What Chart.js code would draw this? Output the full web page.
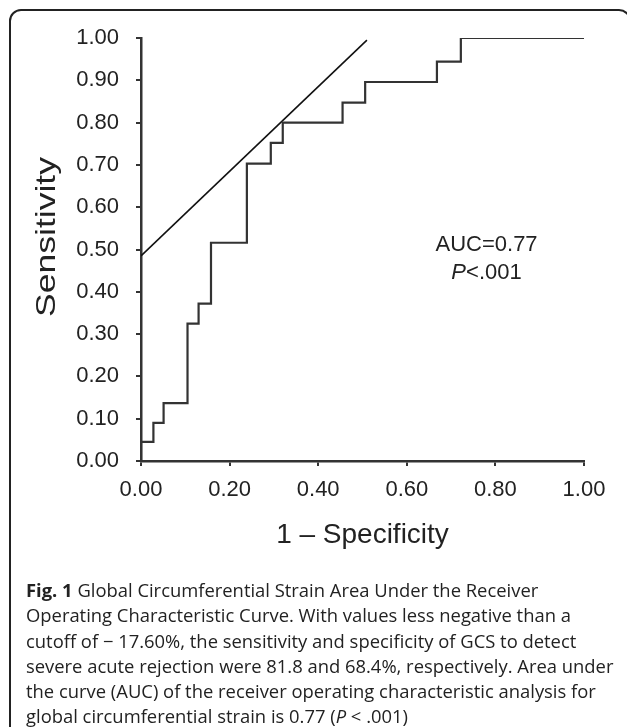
<!DOCTYPE html>
<html>
<head>
<meta charset="utf-8">
<script src="https://cdn.jsdelivr.net/npm/chart.js@4"></script>
<style>
  html, body { margin: 0; padding: 0; background: #fff; }
  body { width: 627px; height: 727px; position: relative; overflow: hidden; }
  #frame {
    position: absolute; left: 9px; top: 9px; width: 622px; height: 780px;
    box-sizing: border-box; border: 2px solid #222; border-radius: 12px;
  }
  #roc { position: absolute; left: 0; top: 0; }
  #caption {
    position: absolute; left: 26px; top: 577px;
    font-family: "Open Sans", sans-serif; font-size: 18.4px; line-height: 25.3px;
    color: #222; white-space: nowrap;
  }
  #caption b { font-weight: 700; }
</style>
</head>
<body>
<div id="frame"></div>
<canvas id="roc" width="627" height="580"></canvas>
<div id="caption">
  <div><b>Fig. 1</b> Global Circumferential Strain Area Under the Receiver</div>
  <div>Operating Characteristic Curve. With values less negative than a</div>
  <div>cutoff of − 17.60%, the sensitivity and specificity of GCS to detect</div>
  <div>severe acute rejection were 81.8 and 68.4%, respectively. Area under</div>
  <div>the curve (AUC) of the receiver operating characteristic analysis for</div>
  <div>global circumferential strain is 0.77 (<i>P</i> &lt; .001)</div>
</div>
<script>
// ROC step curve corners (1 - specificity, sensitivity)
const fpr = [0, 0, 0.028, 0.051, 0.105, 0.130, 0.158, 0.239, 0.293, 0.320, 0.455, 0.506, 0.668, 0.722, 1.0];
const tpr = [0, 0.045, 0.090, 0.137, 0.325, 0.372, 0.516, 0.703, 0.752, 0.800, 0.847, 0.896, 0.944, 1.0, 1.0];
// tangent (cutoff) line
const tangentX = [0, 0.51];
const tangentY = [0.485, 0.995];
const xTicks = [0, 0.2, 0.4, 0.6, 0.8, 1.0];
const yTicks = [0, 0.1, 0.2, 0.3, 0.4, 0.5, 0.6, 0.7, 0.8, 0.9, 1.0];
const aucText = 'AUC=0.77';
const pText = '<.001';

const axisFont = '"Liberation Sans", Arial, sans-serif';
const ink = '#333';

// AUC note and stretched y title
const notes = {
    id: 'notes',
    afterDraw(chart) {
        const ctx = chart.ctx;
        const xs = chart.scales.x, ys = chart.scales.y;
        ctx.save();
        ctx.fillStyle = '#222';
        ctx.textBaseline = 'middle';
        ctx.font = '22px ' + axisFont;
        ctx.textAlign = 'center';
        const cx = xs.getPixelForValue(0.78);
        ctx.fillText(aucText, cx, ys.getPixelForValue(0.51));
        // "P" italic + "<.001"
        ctx.textAlign = 'left';
        ctx.font = 'italic 22px ' + axisFont;
        const wP = ctx.measureText('P').width;
        ctx.font = '22px ' + axisFont;
        const wR = ctx.measureText(pText).width;
        const x0 = cx - (wP + wR) / 2;
        const y2 = ys.getPixelForValue(0.445);
        ctx.font = 'italic 22px ' + axisFont;
        ctx.fillText('P', x0, y2);
        ctx.font = '22px ' + axisFont;
        ctx.fillText(pText, x0 + wP, y2);

        // y axis title
        ctx.font = '28px ' + axisFont;
        ctx.textAlign = 'center';
        const w = ctx.measureText('Sensitivity').width;
        ctx.translate(47, 237);
        ctx.rotate(-Math.PI / 2);
        ctx.scale(160 / w, 1);
        ctx.fillText('Sensitivity', 0, 0);
        ctx.restore();
    }
};

const ctx = document.getElementById('roc').getContext('2d');
new Chart(ctx, {
    type: 'line',
    data: {
        datasets: [{
            label: 'ROC',
            data: fpr.map((x, i) => ({ x: x, y: tpr[i] })),
            borderColor: ink,
            borderWidth: 2.2,
            pointRadius: 0,
            stepped: 'before',
            fill: false
        }, {
            label: 'Cutoff',
            data: tangentX.map((x, i) => ({ x: x, y: tangentY[i] })),
            borderColor: '#111',
            borderWidth: 1.6,
            pointRadius: 0,
            fill: false
        }]
    },
    options: {
        responsive: false,
        animation: false,
        devicePixelRatio: 1,
        layout: { padding: { left: 0, top: 38, right: 43, bottom: 0 } },
        plugins: {
            legend: { display: false },
            tooltip: { enabled: false }
        },
        scales: {
            x: {
                type: 'linear',
                min: 0, max: 1,
                afterFit: s => { s.height = 119; },
                afterBuildTicks: s => { s.ticks = xTicks.map(v => ({ value: v })); },
                ticks: {
                    padding: 11,
                    color: '#222',
                    font: { family: axisFont, size: 22 },
                    callback: v => v.toFixed(2)
                },
                grid: { drawOnChartArea: false, drawTicks: true, tickLength: 5, color: ink, lineWidth: 2 },
                border: { display: true, color: ink, width: 2.5 },
                title: {
                    display: true,
                    text: '1 – Specificity',
                    color: '#222',
                    font: { family: axisFont, size: 28 },
                    padding: { top: 0, bottom: 28 }
                }
            },
            y: {
                type: 'linear',
                min: 0, max: 1,
                afterFit: s => { s.width = 141; },
                afterBuildTicks: s => { s.ticks = yTicks.map(v => ({ value: v })); },
                ticks: {
                    padding: 17,
                    color: '#222',
                    font: { family: axisFont, size: 22 },
                    callback: v => v.toFixed(2)
                },
                grid: { drawOnChartArea: false, drawTicks: true, tickLength: 5, color: ink, lineWidth: 2 },
                border: { display: true, color: ink, width: 2.5 },
                title: { display: false, text: 'Sensitivity' }
            }
        }
    },
    plugins: [notes]
});
</script>
</body>
</html>
